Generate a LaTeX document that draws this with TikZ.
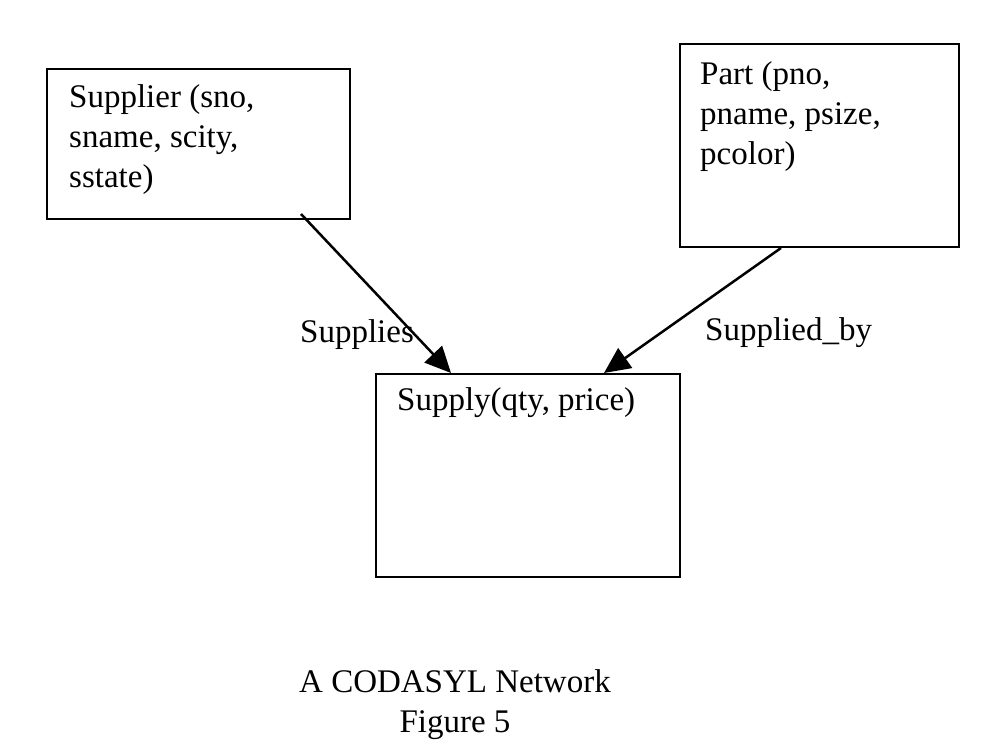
\documentclass[tikz,border=0pt]{standalone}
\usepackage{fontspec}
\setmainfont{Liberation Serif}
\usetikzlibrary{arrows.meta,positioning}
\tikzset{
	rec/.style={draw,line width=2pt,inner sep=0pt,anchor=north west},
	txt/.style={inner sep=0pt,align=left,anchor=base west,font=\fontsize{33}{40}\selectfont},
	link/.style={line width=2.5pt,-{Triangle[length=26pt,width=24pt]}}
}
\begin{document}
\begin{tikzpicture}[x=1pt,y=-1pt]
	\useasboundingbox (0,0) rectangle (995,746);
	\node[rec,minimum width=303pt,minimum height=150pt](sup) at (46,68){};
	\node[rec,minimum width=279pt,minimum height=203pt](part) at (679,43){};
	\node[rec,minimum width=304pt,minimum height=203pt](supply) at (375,373){};
	\node[txt](supt) at (69,188){Supplier (sno,\\sname, scity,\\sstate)};
	\node[txt](partt) at (700,165){Part (pno,\\pname, psize,\\pcolor)};
	\node[txt](supplyt) at (397,410){Supply(qty, price)};
	\draw[link]([xshift=102.5pt,yshift=6pt]sup.south)--([xshift=-77pt]supply.north);
	\draw[link]([xshift=-38.5pt]part.south)--([xshift=76pt]supply.north);
	\node[txt](lsup) at (300,342){Supplies};
	\node[txt](lpart) at (705,340){Supplied\_by};
	\node[txt,align=center,anchor=base](cap) at (455,732){A CODASYL Network\\Figure 5};
\end{tikzpicture}
\end{document}
